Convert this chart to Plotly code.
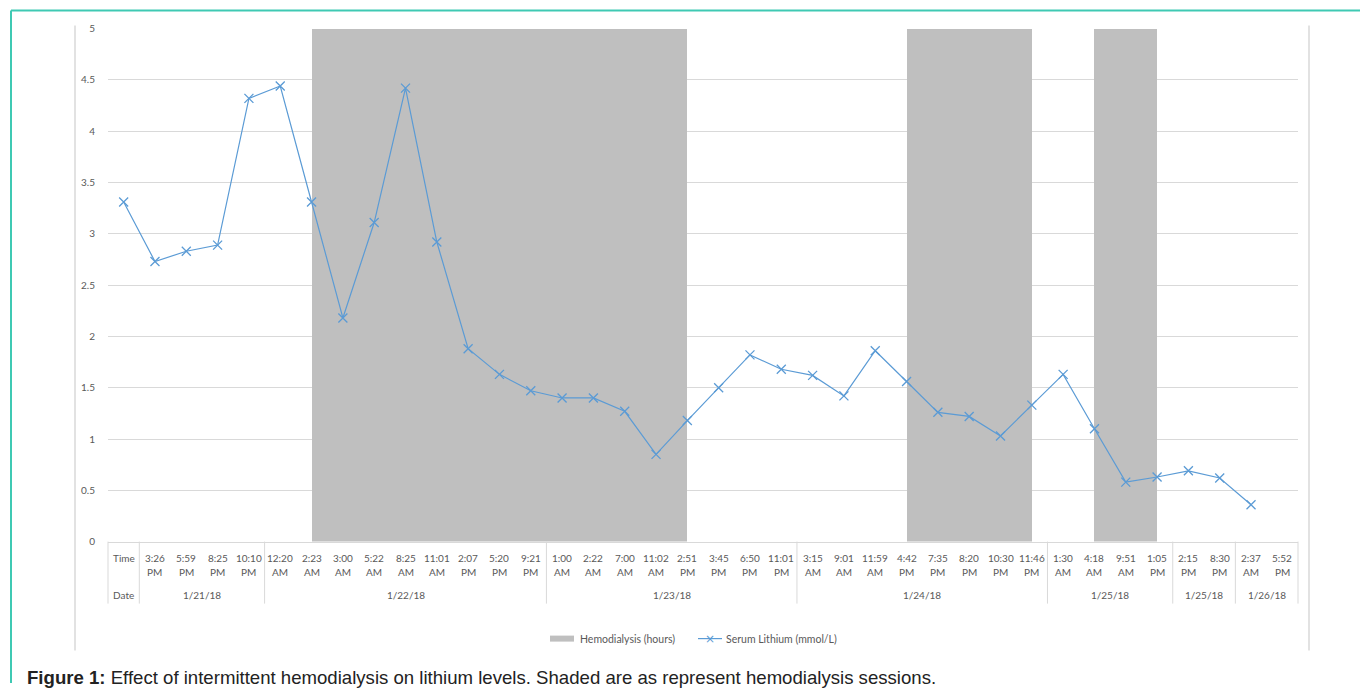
import plotly.graph_objects as go

W, H = 1360, 688

# ---------------- data ----------------
times = ["3:26 PM", "5:59 PM", "8:25 PM", "10:10 PM",
         "12:20 AM", "2:23 AM", "3:00 AM", "5:22 AM", "8:25 AM", "11:01 AM", "2:07 PM", "5:20 PM", "9:21 PM",
         "1:00 AM", "2:22 AM", "7:00 AM", "11:02 AM", "2:51 PM", "3:45 PM", "6:50 PM", "11:01 PM",
         "3:15 AM", "9:01 AM", "11:59 AM", "4:42 PM", "7:35 PM", "8:20 PM", "10:30 PM", "11:46 PM",
         "1:30 AM", "4:18 AM", "9:51 AM", "1:05 PM",
         "2:15 PM", "8:30 PM",
         "2:37 AM", "5:52 PM"]
dates = ["1/21/18", "1/22/18", "1/23/18", "1/24/18", "1/25/18", "1/25/18", "1/26/18"]
date_counts = [4, 9, 8, 8, 4, 2, 2]

lithium = [3.31, 2.73, 2.83, 2.89, 4.32, 4.44, 3.31, 2.18, 3.11, 4.42, 2.92, 1.88, 1.63,
           1.47, 1.40, 1.40, 1.27, 0.85, 1.18, 1.50, 1.82, 1.68, 1.62, 1.42, 1.86, 1.56,
           1.26, 1.22, 1.03, 1.33, 1.63, 1.10, 0.58, 0.63, 0.69, 0.62, 0.36]

# hemodialysis (shown clipped at axis max), one value per category slot (header slot + 37 times)
hemo = [0, 0, 0, 0, 0, 0, 5, 5, 5, 5, 5, 5, 5, 5, 5, 5, 5, 5, 0, 0, 0, 0, 0, 0, 0,
        5, 5, 5, 5, 0, 0, 5, 5, 0, 0, 0, 0, 0]

# ---------------- layout geometry ----------------
PL, PR, PT, PB = 108, 1298, 28, 541
ncat = len(times) + 1
cw = (PR - PL) / ncat

# vertical calibration of the rendered page
VS, VO = 0.984, 5.4

def xp(v):  # category coordinate -> paper x
    return (PL + (v + 0.5) * cw) / W

def yp(py):  # target pixel y -> paper y
    return (H - (py - VO) / VS) / H

GRID = "#d9d9d9"
TXT = "#595959"
BLUE = "#5b9bd5"
FONT = "Lato"

fig = go.Figure()

fig.add_trace(go.Bar(
    x=list(range(ncat)), y=hemo, width=1, offset=0,
    marker=dict(color="#bfbfbf", line=dict(width=0)),
    name="Hemodialysis (hours)", showlegend=False, hoverinfo="skip"))

fig.add_trace(go.Scatter(
    x=list(range(len(lithium))), y=lithium, mode="lines+markers",
    line=dict(color=BLUE, width=1.2),
    marker=dict(symbol="x-thin", size=9, line=dict(color=BLUE, width=1.3)),
    name="Serum Lithium (mmol/L)", showlegend=False))

shapes = []
annotations = []

# frame lines
shapes.append(dict(type="line", xref="paper", yref="paper", x0=11 / W, x1=1, y0=yp(10), y1=yp(10),
                   line=dict(color="#3fc9b3", width=2)))
shapes.append(dict(type="line", xref="paper", yref="paper", x0=11 / W, x1=11 / W, y0=yp(10), y1=0,
                   line=dict(color="#3fc9b3", width=2)))
for gx in (75, 1309):
    shapes.append(dict(type="line", xref="paper", yref="paper", x0=gx / W, x1=gx / W, y0=yp(25), y1=yp(650),
                       line=dict(color=GRID, width=1.5)))

# table under the axis
bounds = [0, 1]
acc = 1
for c in date_counts:
    acc += c
    bounds.append(acc)
for b in bounds:
    shapes.append(dict(type="line", xref="paper", yref="paper",
                       x0=xp(b - 0.5), x1=xp(b - 0.5), y0=yp(PB), y1=yp(603),
                       line=dict(color=GRID, width=1)))

annotations.append(dict(x=0, y=yp(557), xref="x", yref="paper", text="Time", showarrow=False,
                        font=dict(family=FONT, size=10, color=TXT), xanchor="center", yanchor="middle"))
annotations.append(dict(x=0, y=yp(594), xref="x", yref="paper", text="Date", showarrow=False,
                        font=dict(family=FONT, size=10, color=TXT), xanchor="center", yanchor="middle"))
for i, t in enumerate(times):
    hh, ap = t.split(" ")
    annotations.append(dict(x=i + 1, y=yp(557), xref="x", yref="paper", text=hh, showarrow=False,
                            font=dict(family=FONT, size=10, color=TXT), xanchor="center", yanchor="middle"))
    annotations.append(dict(x=i + 1, y=yp(571), xref="x", yref="paper", text=ap, showarrow=False,
                            font=dict(family=FONT, size=10, color=TXT), xanchor="center", yanchor="middle"))
start = 1
for d, c in zip(dates, date_counts):
    annotations.append(dict(x=start + (c - 1) / 2, y=yp(594), xref="x", yref="paper", text=d, showarrow=False,
                            font=dict(family=FONT, size=10, color=TXT), xanchor="center", yanchor="middle"))
    start += c

# custom legend
shapes.append(dict(type="rect", xref="paper", yref="paper", x0=550 / W, x1=574 / W, y0=yp(641), y1=yp(635),
                   fillcolor="#bfbfbf", line=dict(width=0)))
annotations.append(dict(x=578 / W, y=yp(638), xref="paper", yref="paper", text="Hemodialysis (hours)",
                        showarrow=False, xanchor="left", yanchor="middle",
                        font=dict(family=FONT, size=10.5, color=TXT)))
shapes.append(dict(type="line", xref="paper", yref="paper", x0=698 / W, x1=722 / W, y0=yp(638), y1=yp(638),
                   line=dict(color=BLUE, width=1.2)))
annotations.append(dict(x=710 / W, y=yp(638.5), xref="paper", yref="paper", text="×",
                        showarrow=False, xanchor="center", yanchor="middle",
                        font=dict(family="DejaVu Sans", size=12, color=BLUE)))
annotations.append(dict(x=724 / W, y=yp(638), xref="paper", yref="paper", text="Serum Lithium (mmol/L)",
                        showarrow=False, xanchor="left", yanchor="middle",
                        font=dict(family=FONT, size=10.5, color=TXT)))

# caption
annotations.append(dict(x=25 / W, y=yp(677), xref="paper", yref="paper",
                        text="<b>Figure 1:</b> Effect of intermittent hemodialysis on lithium levels. "
                             "Shaded are as represent hemodialysis sessions.",
                        showarrow=False, xanchor="left", yanchor="middle",
                        font=dict(family="Liberation Sans, Arial", size=18.6, color="#222222")))

fig.update_layout(
    width=W, height=H,
    margin=dict(l=0, r=0, t=0, b=0),
    paper_bgcolor="white", plot_bgcolor="white",
    bargap=0,
    showlegend=False,
    shapes=shapes, annotations=annotations,
    xaxis=dict(domain=[PL / W, PR / W], range=[-0.5, ncat - 0.5], showticklabels=False,
               showgrid=False, zeroline=False, showline=True, linecolor=GRID, linewidth=1, ticks=""),
    yaxis=dict(domain=[yp(PB), yp(PT)], range=[0, 5], dtick=0.5, tick0=0,
               showgrid=True, gridcolor=GRID, gridwidth=1, zeroline=False,
               ticks="outside", ticklen=10, tickcolor="rgba(0,0,0,0)",
               tickfont=dict(family=FONT, size=10, color=TXT)),
)

fig.write_html("out.html", config={"displayModeBar": False},
               post_script="document.body.style.margin='0';document.body.style.overflow='hidden';")
